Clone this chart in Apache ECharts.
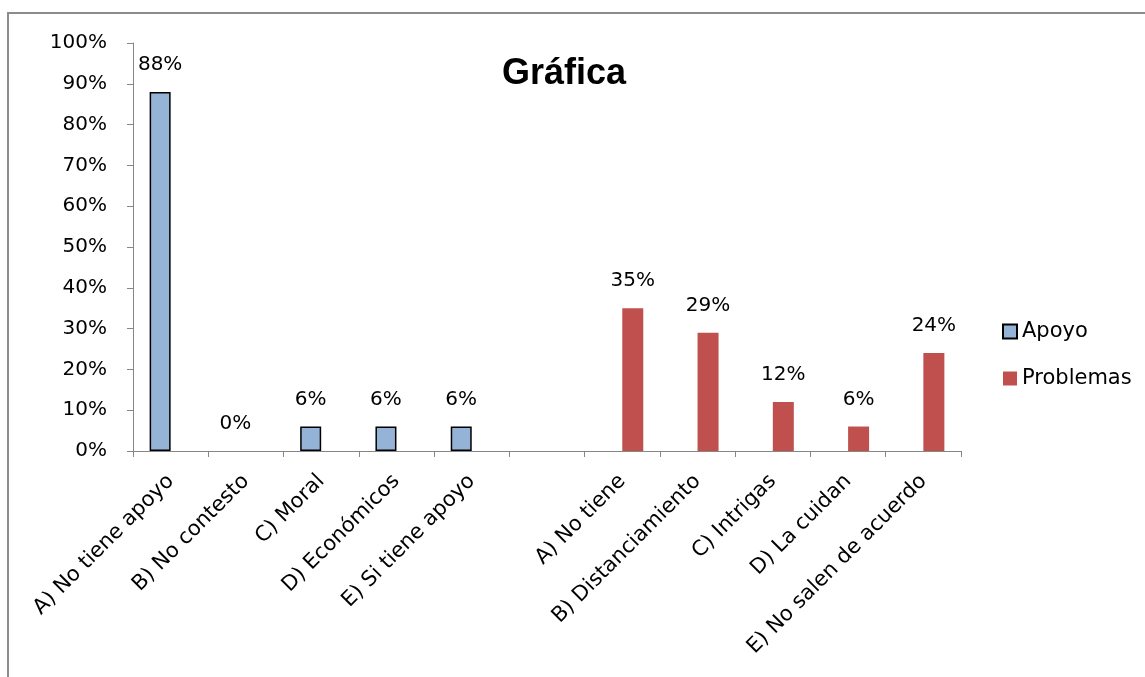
<!DOCTYPE html>
<html>
<head>
<meta charset="utf-8">
<script src="https://cdn.jsdelivr.net/npm/echarts@6/dist/echarts.min.js"></script>
<style>
html,body{margin:0;padding:0;background:#fff;}
#chart{width:1145px;height:677px;}
</style>
</head>
<body>
<div id="chart"></div>
<script>
const categories = ['A) No tiene apoyo','B) No contesto','C) Moral','D) Económicos','E) Si tiene apoyo','','A) No tiene','B) Distanciamiento','C) Intrigas','D) La cuidan','E) No salen de acuerdo'];
const apoyo = [88, 0, 6, 6, 6, null, null, null, null, null, null];
const problemas = [null, null, null, null, null, null, 35, 29, 12, 6, 24];
const yTicks = [0, 10, 20, 30, 40, 50, 60, 70, 80, 90, 100];

const FONT = 'DejaVu Sans';
const axisGray = '#868686';
const chart = echarts.init(document.getElementById('chart'), null, {renderer: 'canvas'});
const labelCfg = {
  show: true, position: 'top', distance: 17,
  formatter: p => p.value + '%',
  color: '#000', fontFamily: FONT, fontSize: 20
};
// zero-height bars draw no outline
const apoyoData = apoyo.map(v => v === 0 ? {value: v, itemStyle: {borderWidth: 0}} : v);
chart.setOption({
  animation: false,
  backgroundColor: '#fff',
  title: {
    text: 'Gráfica', left: 559, top: 51, textAlign: 'center',
    textStyle: {fontFamily: 'Liberation Sans', fontWeight: 'bold', fontSize: 36, color: '#000'}
  },
  graphic: [{
    type: 'rect', shape: {x: 8, y: 13, width: 1200, height: 720},
    style: {fill: 'none', stroke: '#8c8c8c', lineWidth: 2}, silent: true
  }],
  legend: {
    orient: 'vertical', left: 997, top: 316, itemWidth: 14, itemHeight: 14, itemGap: 26,
    icon: 'rect',
    textStyle: {fontFamily: FONT, fontSize: 21, color: '#000', lineHeight: 20},
    data: ['Apoyo', 'Problemas']
  },
  grid: {left: 133, right: 184, top: 43, bottom: 226, containLabel: false},
  xAxis: {
    type: 'category', data: categories,
    axisLine: {lineStyle: {color: axisGray, width: 1}},
    axisTick: {show: true, length: 6, lineStyle: {color: axisGray}, alignWithLabel: false, interval: 0},
    axisLabel: {interval: 0, rotate: 45, margin: 27, color: '#000', fontFamily: FONT, fontSize: 21}
  },
  yAxis: {
    type: 'value', min: 0, max: 100, interval: 10,
    axisLine: {show: true, lineStyle: {color: axisGray, width: 1}},
    axisTick: {show: true, length: 6, lineStyle: {color: axisGray}},
    splitLine: {show: false},
    axisLabel: {formatter: v => yTicks.includes(v) ? v + '%' : '', margin: 26, color: '#000', fontFamily: FONT, fontSize: 20}
  },
  series: [{
    name: 'Apoyo', type: 'bar', data: apoyoData, barWidth: 21, barGap: '0%',
    itemStyle: {color: '#95B3D7', borderColor: '#000', borderWidth: 1.5},
    label: labelCfg
  }, {
    name: 'Problemas', type: 'bar', data: problemas, barWidth: 21, barGap: '0%',
    itemStyle: {color: '#C0504D'},
    label: labelCfg
  }]
});
</script>
</body>
</html>
